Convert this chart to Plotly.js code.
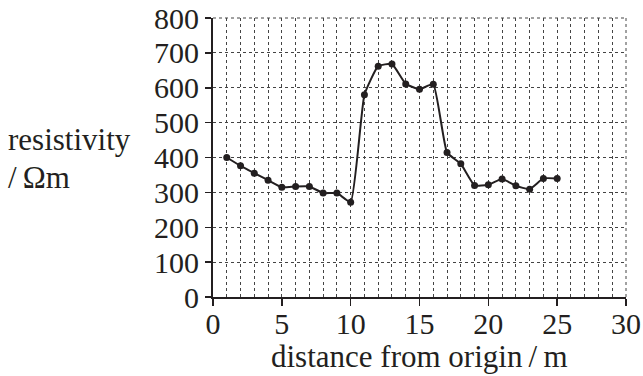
<!DOCTYPE html>
<html><head><meta charset="utf-8">
<script src="https://cdn.plot.ly/plotly-3.0.1.min.js"></script>
<style>html,body{margin:0;padding:0;background:#fff}#c{width:643px;height:376px}</style>
</head><body><div id="c"></div>
<script>
const distance = [1,2,3,4,5,6,7,8,9,10,11,12,13,14,15,16,17,18,19,20,21,22,23,24,25];
const resistivity = [400,376,355,335,315,317,317,298,298,272,580,662,668,611,596,610,414,382,320,322,338,319,309,340,340];
const xTicks = [0,5,10,15,20,25,30];
const yTicks = [0,100,200,300,400,500,600,700,800];

const FAM = 'Liberation Serif';
const C = '#231f20';
function f(size){ return {family:FAM, size:size, color:C}; }
const trace = {
  x: distance, y: resistivity, type:'scatter', mode:'lines+markers',
  line:{color:C, width:2, shape:'spline', smoothing:0.4},
  marker:{color:C, size:7}
};
const grid = {color:'#444', width:1, dash:'dot'};
const layout = {
  width:643, height:376,
  margin:{l:213, r:17, t:18, b:79},
  paper_bgcolor:'#fff', plot_bgcolor:'#fff',
  showlegend:false,
  font: f(30),
  xaxis:{
    range:[0,30], tickvals:xTicks, ticktext:xTicks.map(String),
    ticks:'outside', ticklen:7, tickwidth:1.5, tickcolor:C,
    ticklabelstandoff:-8,
    showline:true, linecolor:C, linewidth:2,
    showgrid:true, gridcolor:'#444', griddash:'dot', gridwidth:1,
    minor:{dtick:1, showgrid:true, gridcolor:'#444', griddash:'dot', gridwidth:1},
    zeroline:false,
    tickfont:f(30)
  },
  yaxis:{
    range:[0,800], tickvals:yTicks, ticktext:yTicks.map(String),
    ticks:'outside', ticklen:6, tickwidth:1.5, tickcolor:C,
    showline:true, linecolor:C, linewidth:2,
    showgrid:true, gridcolor:'#444', griddash:'dot', gridwidth:1,
    zeroline:false,
    tickfont:f(30)
  },
  shapes:[
    {type:'line', xref:'paper', yref:'paper', x0:0, x1:1, y0:1, y1:1, line:grid, layer:'below'},
    {type:'line', xref:'paper', yref:'paper', x0:1, x1:1, y0:0, y1:1, line:grid, layer:'below'}
  ],
  annotations:[
    {xref:'paper', yref:'paper', x:0.5, y:-0.215, xanchor:'center', yanchor:'middle',
     showarrow:false, text:'distance from origin\u2009/\u2009m', font:f(31)},
    {xref:'paper', yref:'paper', x:-0.502, y:0.563, xanchor:'left', yanchor:'middle',
     showarrow:false, text:'resistivity', font:f(31)},
    {xref:'paper', yref:'paper', x:-0.502, y:0.427, xanchor:'left', yanchor:'middle',
     showarrow:false, text:'/\u2009\u03A9m', font:f(31)}
  ]
};
Plotly.newPlot('c', [trace], layout, {staticPlot:true, displayModeBar:false});
</script>
</body></html>
